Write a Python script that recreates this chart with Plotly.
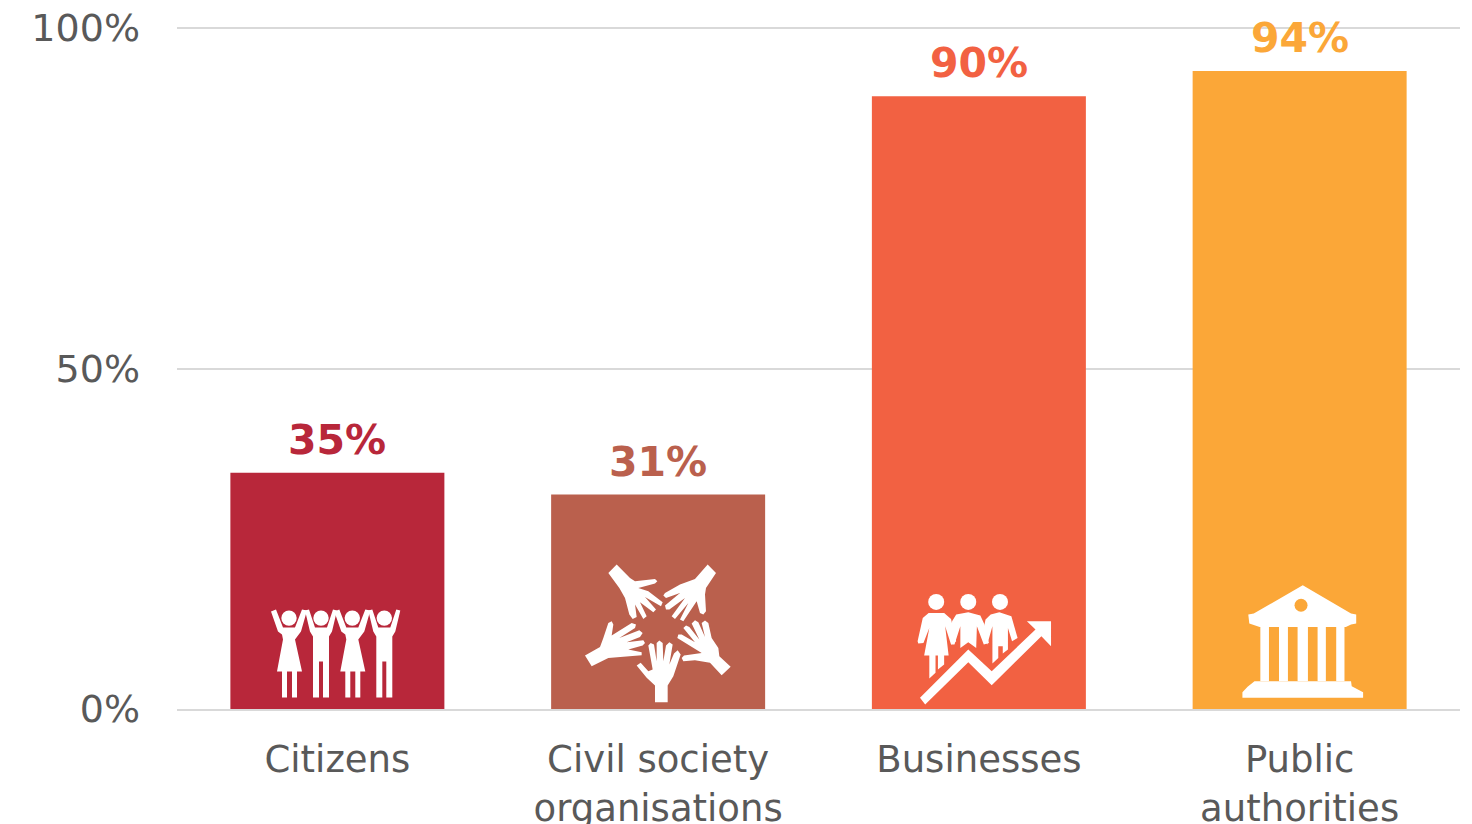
import plotly.graph_objects as go

categories = ["Citizens", "Civil society<br>organisations", "Businesses", "Public<br>authorities"]
values = [34.7, 31.5, 90.0, 93.7]
value_labels = ["35%", "31%", "90%", "94%"]
colors = ["#B8273A", "#BA604D", "#F26142", "#FBA738"]
y_ticks = [0, 50, 100]
y_tick_labels = ["0%", "50%", "100%"]

# The page puts the figure 8px in from the top-left corner.
OFFSET = 8
W, H = 1464, 816
Y_TOP = 100.3
PLOT_H = 681.5 * Y_TOP / 100
L, R, B = 169, 12, 114.5
T = H - B - PLOT_H
FONT = "DejaVu Sans"
GREY = "#595959"


def px(x, y):
    return (x - OFFSET - L) / (W - L - R), (H - B - (y - OFFSET)) / PLOT_H


def poly(points, fill="white"):
    segs = []
    for i, (x, y) in enumerate(points):
        u, v = px(x, y)
        segs.append(("M" if i == 0 else "L") + f"{u:.5f},{v:.5f}")
    return dict(type="path", path=" ".join(segs) + " Z", xref="paper", yref="paper",
                fillcolor=fill, line=dict(width=0), layer="above")


def circ(cx, cy, r, fill="white"):
    u0, v0 = px(cx - r, cy + r)
    u1, v1 = px(cx + r, cy - r)
    return dict(type="circle", x0=u0, x1=u1, y0=v0, y1=v1, xref="paper", yref="paper",
                fillcolor=fill, line=dict(width=0), layer="above")


shapes = []

# Citizens icon
GIRL = [(-18, 612), (-13, 610), (-6, 628), (6, 628), (13, 610), (18, 611), (12, 632), (9, 636), (6, 640), (13, 672),
        (8, 672), (8, 698), (3, 698), (3, 672), (-2, 672), (-2, 698), (-7, 698), (-7, 672), (-12, 672), (-6, 640),
        (-7, 635), (-11, 632)]
BOY = [(-16, 611), (-12, 610), (-6, 628), (6, 628), (12, 610), (16, 611), (11, 632), (8, 637), (8, 698),
       (2, 698), (2, 662), (-2, 662), (-2, 698), (-8, 698), (-8, 637), (-11, 632)]
for cx, fig_pts in zip((289, 321, 352.3, 384.3), (GIRL, BOY, GIRL, BOY)):
    shapes.append(poly([(cx + dx, y) for dx, y in fig_pts]))
    shapes.append(circ(cx, 618.5, 7.7))


def z1(points):
    return [(580 + x / 3, 560 + y / 3) for x, y in points]


# Civil society icon
HAND_BOTTOM = [(225, 428), (263, 428), (263, 378), (280, 350), (302, 285), (293, 272), (282, 282), (268, 315),
               (278, 255), (268, 248), (258, 258), (250, 305), (248, 250), (238, 243), (230, 250), (230, 305),
               (222, 255), (212, 250), (205, 258), (218, 330), (205, 335), (182, 310), (170, 318), (200, 355),
               (225, 378)]
HAND_TOP_LEFT = [(85, 40), (110, 15), (150, 55), (165, 65), (225, 58), (232, 65), (225, 72), (175, 85), (205, 95),
                 (248, 128), (243, 140), (195, 112), (228, 150), (220, 158), (180, 128), (200, 170), (190, 178),
                 (165, 135), (170, 172), (158, 178), (148, 165), (135, 115), (118, 85)]
HAND_TOP_RIGHT = [(408, 40), (383, 15), (345, 58), (300, 75), (255, 100), (250, 108), (258, 115), (300, 100),
                  (255, 138), (258, 150), (268, 150), (315, 115), (275, 170), (285, 178), (325, 130), (300, 180),
                  (310, 185), (340, 140), (350, 125), (360, 160), (370, 165), (378, 155), (375, 105), (378, 85)]
HAND_LEFT = [(15, 288), (60, 262), (70, 235), (85, 190), (95, 185), (100, 195), (95, 228), (155, 190), (168, 195),
             (165, 205), (118, 235), (178, 212), (188, 220), (180, 232), (140, 248), (190, 242), (195, 250), (188, 258),
             (145, 270), (185, 278), (185, 287), (130, 292), (85, 295), (35, 320)]
HAND_RIGHT = [(452, 322), (418, 290), (415, 265), (395, 235), (385, 190), (375, 183), (365, 190), (375, 232),
              (355, 188), (345, 182), (335, 192), (358, 240), (328, 202), (318, 198), (310, 205), (345, 248),
              (305, 225), (295, 225), (292, 235), (365, 280), (312, 288), (305, 295), (310, 305), (345, 302),
              (390, 310), (425, 347)]
for pts in (HAND_BOTTOM, HAND_TOP_LEFT, HAND_TOP_RIGHT, HAND_LEFT, HAND_RIGHT):
    shapes.append(poly(z1(pts)))


def z2(points):
    return [(870 + x / 2.9, 570 + y / 3) for x, y in points]


# Businesses icon
WOMAN = [(138, 215), (153, 145), (170, 130), (215, 130), (235, 148), (250, 215), (235, 225), (218, 170), (228, 258),
         (215, 258), (215, 285), (197, 300), (197, 258), (190, 258), (190, 310), (172, 327), (172, 258), (157, 258),
         (172, 175), (155, 220), (140, 222)]
MIDDLE = [(238, 155), (250, 135), (285, 128), (320, 138), (332, 165), (345, 220), (330, 225), (310, 170), (308, 235),
          (285, 218), (262, 235), (262, 170), (245, 225), (235, 225)]
RIGHT = [(335, 150), (350, 135), (375, 128), (410, 140), (428, 205), (412, 215), (400, 175), (400, 240), (385, 252),
         (385, 230), (372, 230), (372, 265), (355, 282), (355, 170), (340, 225), (325, 200)]
ARROW = [(145, 385), (285, 240), (353, 305), (480, 180), (455, 155), (525, 155), (525, 230), (497, 200), (353, 347),
         (285, 278), (160, 405)]
for pts in (WOMAN, MIDDLE, RIGHT, ARROW):
    shapes.append(poly(z2(pts)))
for zx in (192, 285, 377):
    cx, cy = z2([(zx, 97)])[0]
    shapes.append(circ(cx, cy, 8))

# Public authorities icon
ROOF = [(1255, 47), (1395, 132), (1410, 135), (1410, 162), (1395, 165), (1380, 172), (1130, 172), (1100, 162),
        (1097, 135), (1113, 132)]
BASE = [(1132, 335), (1115, 335), (1095, 352), (1080, 368), (1080, 385), (1430, 385), (1430, 368), (1397, 350),
        (1395, 335)]
shapes.append(poly(z2(ROOF)))
shapes.append(poly(z2(BASE)))
for a, b in ((1132, 1157), (1186, 1212), (1240, 1270), (1298, 1322), (1352, 1376)):
    shapes.append(poly(z2([(a, 172), (b, 172), (b, 335), (a, 335)])))
cx, cy = z2([(1250, 107)])[0]
shapes.append(circ(cx, cy, 6.5, fill=colors[3]))

fig = go.Figure(go.Bar(
    x=categories,
    y=values,
    marker=dict(color=colors, line=dict(width=0)),
    hoverinfo="skip",
))

annotations = [
    dict(x=c, y=v, xref="x", yref="y", text=t, showarrow=False, xanchor="center", yanchor="bottom",
         yshift=7, font=dict(family=FONT, size=41, color=col, weight="bold"))
    for c, v, t, col in zip(categories, values, value_labels, colors)
]

fig.update_layout(
    width=W, height=H,
    margin=dict(l=L, r=R, t=T, b=B, pad=0),
    paper_bgcolor="white",
    plot_bgcolor="white",
    bargap=1 - 214 / 320.75,
    showlegend=False,
    font=dict(family=FONT, color=GREY, size=36),
    shapes=shapes,
    annotations=annotations,
)
fig.update_xaxes(
    tickfont=dict(family=FONT, size=37, color=GREY),
    showgrid=False, showline=True, linecolor="#D9D9D9", linewidth=2,
    ticks="", fixedrange=True, automargin=False,
    ticklabelstandoff=17, ticklabeloverflow="allow",
)
fig.update_yaxes(
    range=[0, Y_TOP],
    tickvals=y_ticks, ticktext=y_tick_labels,
    tickfont=dict(family=FONT, size=38, color=GREY),
    showgrid=True, gridcolor="#D9D9D9", gridwidth=2,
    zeroline=False, ticks="", ticklen=0, fixedrange=True, automargin=False,
    ticklabelstandoff=36, ticklabeloverflow="allow",
)
fig.write_html("out.html", config=dict(displayModeBar=False))
